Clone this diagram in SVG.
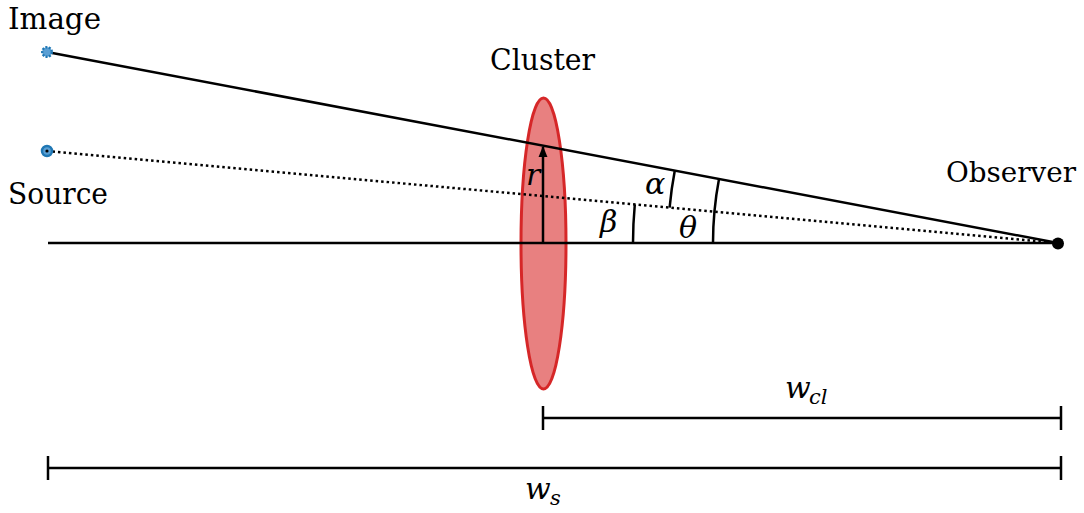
<svg xmlns="http://www.w3.org/2000/svg" width="1084" height="513" viewBox="0 0 1084 513">
<style>
.lbl{font-family:"DejaVu Serif",serif;font-size:30px;fill:#000}
.m{font-family:"DejaVu Serif",serif;font-style:italic;font-size:30px;fill:#000}
.sub{font-family:"DejaVu Serif",serif;font-style:italic;font-size:21px;fill:#000}
.ln{stroke:#000;stroke-width:2.5;fill:none}
</style>
<defs>
<marker id="ah" viewBox="0 0 10 10" refX="9" refY="5" markerWidth="4.5" markerHeight="4.5" orient="auto">
<path d="M0,1 L10,5 L0,9 Z" fill="#000"/>
</marker>
</defs>
<g id="cluster">
<ellipse cx="543.5" cy="243.5" rx="22.5" ry="145.5" fill="#e88080" stroke="#d62728" stroke-width="3"/>
<text class="lbl" x="490" y="70" textLength="105" lengthAdjust="spacingAndGlyphs">Cluster</text>
</g>
<g id="connectors">
<line class="ln" x1="48" y1="243" x2="1058" y2="243"/>
<line class="ln" x1="47" y1="52" x2="1058" y2="243"/>
<line class="ln" x1="47" y1="151" x2="1058" y2="243" stroke-dasharray="2.5,3"/>
<line class="ln" x1="543" y1="243" x2="543" y2="147" marker-end="url(#ah)"/>
<path class="ln" d="M633,243 A425,425 0 0 1 634.8,204.5"/>
<path class="ln" d="M669.6,207.7 A390,390 0 0 1 674.8,170.6"/>
<path class="ln" d="M713,243 A345,345 0 0 1 719,179"/>
<line class="ln" x1="543" y1="418" x2="1061" y2="418"/>
<line class="ln" x1="543" y1="406" x2="543" y2="430"/>
<line class="ln" x1="1061" y1="406" x2="1061" y2="430"/>
<line class="ln" x1="48" y1="468" x2="1061" y2="468"/>
<line class="ln" x1="48" y1="456" x2="48" y2="480"/>
<line class="ln" x1="1061" y1="456" x2="1061" y2="480"/>
</g>
<g id="image">
<circle cx="47" cy="52" r="4.8" fill="#5a9fd4" stroke="#1f77b4" stroke-width="2.4" stroke-dasharray="2,1.4"/>
<text class="lbl" x="8" y="29" textLength="93" lengthAdjust="spacingAndGlyphs">Image</text>
</g>
<g id="source">
<circle cx="47" cy="151" r="5" fill="#5a9fd4" stroke="#1f77b4" stroke-width="2.5"/>
<circle cx="47" cy="151" r="1.6" fill="#000"/>
<text class="lbl" x="8" y="204" textLength="100" lengthAdjust="spacingAndGlyphs">Source</text>
</g>
<g id="observer">
<circle cx="1058" cy="243.5" r="6" fill="#000"/>
<text class="lbl" x="946" y="182" style="font-size:28px" textLength="130" lengthAdjust="spacingAndGlyphs">Observer</text>
</g>
<g id="labels">
<text class="m" x="526" y="185">r</text>
<text class="m" x="645" y="194">α</text>
<text class="m" x="600" y="232">β</text>
<text class="m" x="679" y="238">θ</text>
<text class="m" x="785" y="398">w</text>
<text class="sub" x="809" y="404">cl</text>
<text class="m" x="525" y="499">w</text>
<text class="sub" x="550" y="505">s</text>
</g>
</svg>
